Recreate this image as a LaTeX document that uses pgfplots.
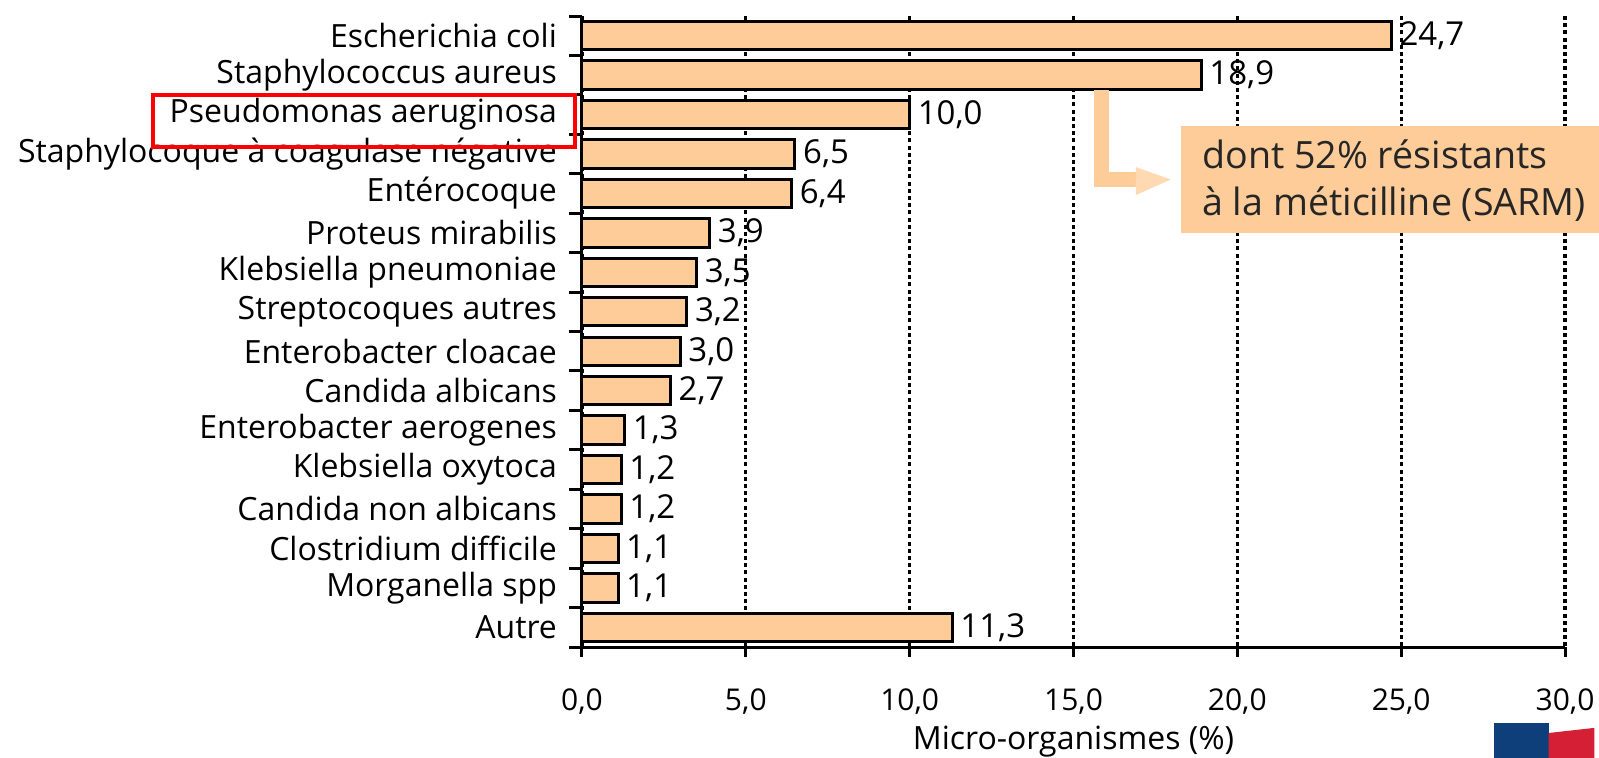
\documentclass[border=0pt]{standalone}
\usepackage{pgfplots}
\pgfplotsset{compat=1.18}
\usepackage{fontspec}
\setmainfont{Open Sans}
\usetikzlibrary{arrows.meta}
\definecolor{peach}{HTML}{FECC98}
\definecolor{logoblue}{HTML}{0E3F7A}
\definecolor{logored}{HTML}{D41F34}
\begin{document}
\begin{tikzpicture}[font=\fontsize{16pt}{19pt}\selectfont]
\path[use as bounding box] (-291pt,-55pt) rectangle (508.5pt,323.5pt);
\begin{axis}[
  scale only axis, width=491.5pt, height=315.5pt,
  anchor=south west, at={(0pt,0pt)},
  clip=false,
  xbar, bar width=0.72,
  xmin=0, xmax=30, ymin=-0.5, ymax=15.5, y dir=reverse,
  axis x line*=bottom, axis y line*=left,
  axis line style={line width=1.5pt, black, -},
  xtick={0,5,...,30},
  ytick={0,...,15},
  yticklabels={Escherichia coli, Staphylococcus aureus, Pseudomonas aeruginosa, Staphylocoque à coagulase négative, Entérocoque, Proteus mirabilis, Klebsiella pneumoniae, Streptocoques autres, Enterobacter cloacae, Candida albicans, Enterobacter aerogenes, Klebsiella oxytoca, Candida non albicans, Clostridium difficile, Morganella spp, Autre},
  minor ytick={-0.5,0.5,...,15.5},
  tick align=outside,
  major tick length=5pt,
  minor tick length=6.5pt,
  major y tick style={draw=none},
  minor y tick style={line width=1.5pt, black},
  major x tick style={line width=1.5pt, black},
  xtick pos=bottom, ytick pos=left,
  xmajorgrids,
  major x grid style={dash pattern=on 2pt off 1.6pt, line width=1.6pt, black},
  /pgf/number format/fixed,
  /pgf/number format/fixed zerofill,
  /pgf/number format/precision=1,
  /pgf/number format/use comma,
  /pgf/number format/assume math mode=true,
  xticklabel style={font=\fontsize{15pt}{18pt}\selectfont, black, anchor=center, yshift=-22.5pt},
  yticklabel style={font=\fontsize{16pt}{19pt}\selectfont, black, xshift=-4pt},
  xlabel={Micro-organismes (\%)},
  xlabel style={at={(axis description cs:0.5,0)}, anchor=center, yshift=-47.5pt, font=\fontsize{16pt}{19pt}\selectfont},
  nodes near coords,
  nodes near coords align={horizontal},
  every node near coord/.append style={font=\fontsize{16.5pt}{19pt}\selectfont, black},
]
\addplot[fill=peach, draw=black, line width=1.5pt] table[x=v, y=i] {
i v
0 24.7
1 18.9
2 10.0
3 6.5
4 6.4
5 3.9
6 3.5
7 3.2
8 3.0
9 2.7
10 1.3
11 1.2
12 1.2
13 1.1
14 1.1
15 11.3
};
% annotation arrow
\draw[peach, line width=7.5pt] (axis cs:15.85,1.37) |- (axis cs:16.95,3.645);
\fill[peach!75] (axis cs:16.9,3.33) -- (axis cs:17.97,3.645) -- (axis cs:16.9,4.04) -- cycle;
% annotation box
\fill[peach] (axis cs:18.28,2.29) rectangle (axis cs:31.5,5.0);
\node[anchor=west, align=left, inner sep=0pt, font=\fontsize{18.8pt}{23.5pt}\selectfont, text=black!85] at (axis cs:18.92,3.68) {dont 52\% résistants\\à la méticilline (SARM)};
% red highlight box
\draw[red, line width=2pt] (axis cs:-13.09,1.50) rectangle (axis cs:-0.21,2.82);
% logo
\fill[logoblue] (axis cs:27.82,17.43) rectangle (axis cs:29.5,18.4);
\fill[logored] (axis cs:29.5,17.68) -- (axis cs:30.9,17.55) -- (axis cs:30.9,18.4) -- (axis cs:29.5,18.4) -- cycle;
\end{axis}
\end{tikzpicture}
\end{document}
